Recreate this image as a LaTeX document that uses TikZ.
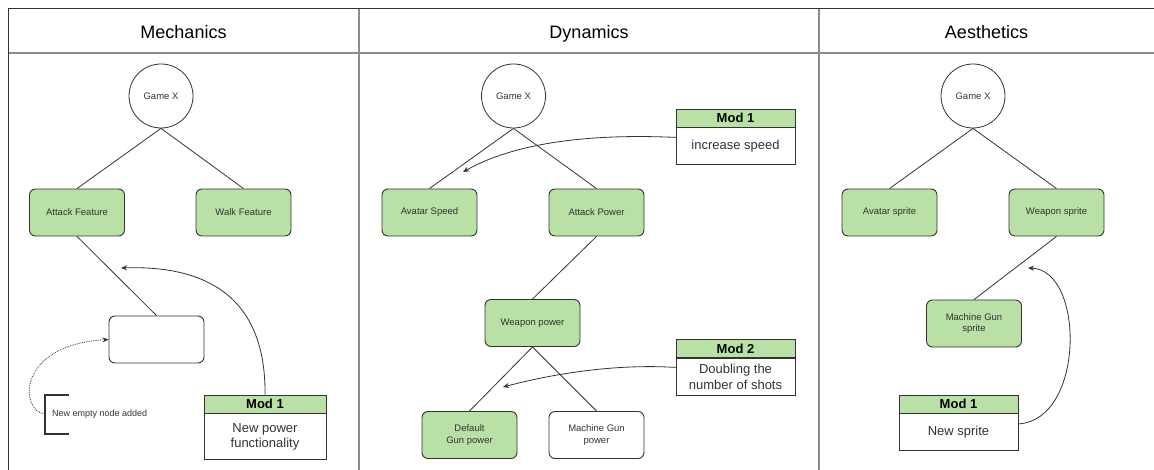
\documentclass[tikz,border=0pt]{standalone}
\usepackage{fontspec}
\setmainfont{Liberation Sans}
\usetikzlibrary{arrows.meta,calc}
\definecolor{leaf}{HTML}{B9E0A5}
\definecolor{ink}{HTML}{333333}
\definecolor{rulegray}{HTML}{8C8C8C}
\begin{document}
\begin{tikzpicture}[x=1pt,y=-1pt,
  feat/.style={draw=ink, line width=0.9pt, rounded corners=6pt, minimum width=95pt,
    minimum height=47pt, inner sep=1pt, align=center, text=ink,
    font=\fontsize{9.5}{11.5}\selectfont},
  leafbox/.style={feat, fill=leaf},
  root/.style={circle, draw=ink, line width=0.8pt, minimum size=64pt, inner sep=0pt,
    text=ink, font=\fontsize{9.5}{11.5}\selectfont},
  link/.style={draw=ink, line width=0.8pt},
  modarrow/.style={draw=ink, line width=0.8pt, -{Stealth[length=6pt,width=5pt]}},
  modhead/.style={draw=ink, line width=0.9pt, fill=leaf, minimum width=119pt,
    minimum height=18pt, inner sep=0pt, font=\bfseries\fontsize{13}{15}\selectfont},
  modbody/.style={draw=ink, line width=0.9pt, minimum width=119pt, inner sep=0pt,
    align=center, text=ink, font=\fontsize{13}{15.5}\selectfont},
  title/.style={anchor=base, font=\fontsize{18}{21}\selectfont, text=black}
]
\useasboundingbox (0,0) rectangle (1154,470);

% frame and column rules
\draw[rulegray, line width=1.4pt] (8,53) -- (1154,53);
\draw[rulegray, line width=1.4pt] (359,9) -- (359,470);
\draw[rulegray, line width=1.4pt] (819,9) -- (819,470);
\draw[ink, line width=1pt] (8,470) -- (8,9) -- (1154,9);

\node[title] (tm) at (183.5,39) {Mechanics};
\node[title] (td) at (589,39) {Dynamics};
\node[title] (ta) at (986.5,39) {Aesthetics};

% ---------- Mechanics ----------
\node[root] (mg) at (161,96) {Game X};
\node[leafbox] (maf) at (77,212.5) {Attack Feature};
\node[leafbox] (mwf) at (243.5,212.5) {Walk Feature};
\node[feat] (mnew) at (156.5,339.5) {};
\draw[link] (mg.south) -- (maf.north);
\draw[link] (mg.south) -- (mwf.north);
\draw[link] (maf.south) -- (mnew.north);

\node[modhead, minimum width=122pt] (mm1h) at (265,404) {Mod 1};
\node[modbody, minimum width=122pt, minimum height=46pt, anchor=north] (mm1b) at (mm1h.south) {New power\\functionality};
\coordinate (mtip) at (121,268);
\draw[modarrow] (mm1h.north) .. controls (266,300) and (210,265) .. (mtip);

% annotation bracket
\draw[ink, line width=1.5pt] (69,395) -- (45,395) -- (45,434) -- (69,434);
\coordinate (brk) at (45,414);
\node[anchor=west, text=ink, font=\fontsize{9}{11}\selectfont, inner sep=0pt] (note) at (52,414) {New empty node added};
\draw[ink, line width=0.8pt, densely dotted, -{Stealth[length=6pt,width=5pt]}]
  (brk) .. controls (20,412) and (15,345) .. (mnew.west);

% ---------- Dynamics ----------
\node[root] (dg) at (513.5,96) {Game X};
\node[leafbox] (das) at (429.5,212.5) {Avatar Speed};
\node[leafbox] (dap) at (596.5,212.5) {Attack Power};
\node[leafbox] (dwp) at (532.5,323) {Weapon power};
\node[leafbox] (ddg) at (469.5,435) {Default\\Gun power};
\node[feat] (dmg) at (596.5,435) {Machine Gun\\power};
\draw[link] (dg.south) -- (das.north);
\draw[link] (dg.south) -- (dap.north);
\draw[link] (dap.south) -- (dwp.north);
\draw[link] (dwp.south) -- (ddg.north);
\draw[link] (dwp.south) -- (dmg.north);

\node[modhead] (dm1h) at (735.5,118) {Mod 1};
\node[modbody, minimum height=37pt, anchor=north] (dm1b) at (dm1h.south) {increase speed};
\coordinate (dtip1) at (463,172);
\draw[modarrow] ([yshift=9pt]dm1b.west) .. controls (600,134) and (520,140) .. (dtip1);

\node[modhead] (dm2h) at (735.5,348.5) {Mod 2};
\node[modbody, minimum height=37pt, anchor=north] (dm2b) at (dm2h.south) {Doubling the\\number of shots};
\coordinate (dtip2) at (503,387);
\draw[modarrow] ([yshift=9.5pt]dm2b.west) .. controls (620,364) and (560,372) .. (dtip2);

% ---------- Aesthetics ----------
\node[root] (ag) at (973,96) {Game X};
\node[leafbox] (aas) at (889.5,212.5) {Avatar sprite};
\node[leafbox] (aws) at (1056.5,212.5) {Weapon sprite};
\node[leafbox] (amg) at (974,323.5) {Machine Gun\\sprite};
\draw[link] (ag.south) -- (aas.north);
\draw[link] (ag.south) -- (aws.north);
\draw[link] (aws.south) -- (amg.north);

\node[modhead] (am1h) at (958.5,404) {Mod 1};
\node[modbody, minimum height=37pt, anchor=north] (am1b) at (am1h.south) {New sprite};
\coordinate (atip) at (1028,268);
\draw[modarrow] ([yshift=8.5pt]am1b.east) .. controls (1085,420) and (1085,270) .. (atip);
\end{tikzpicture}
\end{document}
